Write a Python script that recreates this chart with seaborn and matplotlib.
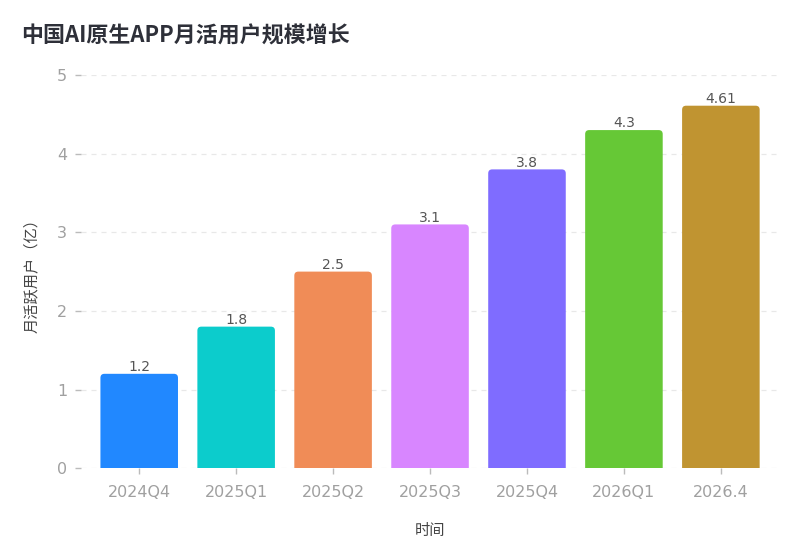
import matplotlib
matplotlib.use("Agg")
import matplotlib.pyplot as plt
import seaborn as sns
import pandas as pd
from matplotlib.patches import FancyBboxPatch

categories = ["2024Q4", "2025Q1", "2025Q2", "2025Q3", "2025Q4", "2026Q1", "2026.4"]
values = [1.2, 1.8, 2.5, 3.1, 3.8, 4.3, 4.61]
labels = ["1.2", "1.8", "2.5", "3.1", "3.8", "4.3", "4.61"]
colors = ["#2188ff", "#0ccccc", "#f08c57", "#d886ff", "#7f6cff", "#66c836", "#c09431"]

sns.set_theme(style="white")
plt.rcParams['font.family'] = ['DejaVu Sans', 'Noto Sans CJK SC']

df = pd.DataFrame({"time": categories, "users": values})

fig = plt.figure(figsize=(8, 5.6), dpi=100)
ax = fig.add_axes([0.1013, 0.164, 0.8725, 0.702])

sns.barplot(data=df, x="time", y="users", hue="time", palette=colors,
            legend=False, ax=ax, width=0.8, saturation=1)

ax.set_xlim(-0.6, 6.6)
ax.set_ylim(0, 5)

# rounded top corners
xpp = 7.2 / (0.8725 * 800)
ypp = 5.0 / (0.702 * 560)
aspect = ypp / xpp
r = 4 * xpp
for p in list(ax.patches):
    x0, w, h = p.get_x(), p.get_width(), p.get_height()
    fc = p.get_facecolor()
    p.remove()
    fb = FancyBboxPatch((x0, -0.2), w, h + 0.2,
                        boxstyle=f"round,pad=0,rounding_size={r}",
                        mutation_aspect=aspect, facecolor=fc, edgecolor="none",
                        zorder=2, clip_on=True)
    ax.add_patch(fb)

for i, (v, t) in enumerate(zip(values, labels)):
    ax.text(i, v - 0.005, t, ha="center", va="bottom", fontsize=10, color="#555555", zorder=3)

ax.set_yticks([0, 1, 2, 3, 4, 5])
ax.yaxis.grid(True, linestyle=(0, (4, 4)), color="#e8e8e8", linewidth=0.9, zorder=0)
ax.set_axisbelow(True)
for s in ax.spines.values():
    s.set_visible(False)
ax.tick_params(axis="both", bottom=True, left=True, colors="#bbbbbb", length=4, width=1,
               labelsize=11.5, labelcolor="#a0a0a0")
ax.tick_params(axis="x", pad=8)
ax.tick_params(axis="y", pad=6)

ax.set_xlabel("时间", fontsize=11, color="#444444", labelpad=17)
ax.set_ylabel("月活跃用户（亿）", fontsize=11, color="#444444", labelpad=13)

fig.text(0.0265, 0.936, "中国AI原生APP月活用户规模增长", fontsize=15.8, fontweight="bold",
         color="#2e3039", family=["Noto Sans CJK SC", "DejaVu Sans"], ha="left", va="center")

fig.savefig("out.png", dpi=100)
